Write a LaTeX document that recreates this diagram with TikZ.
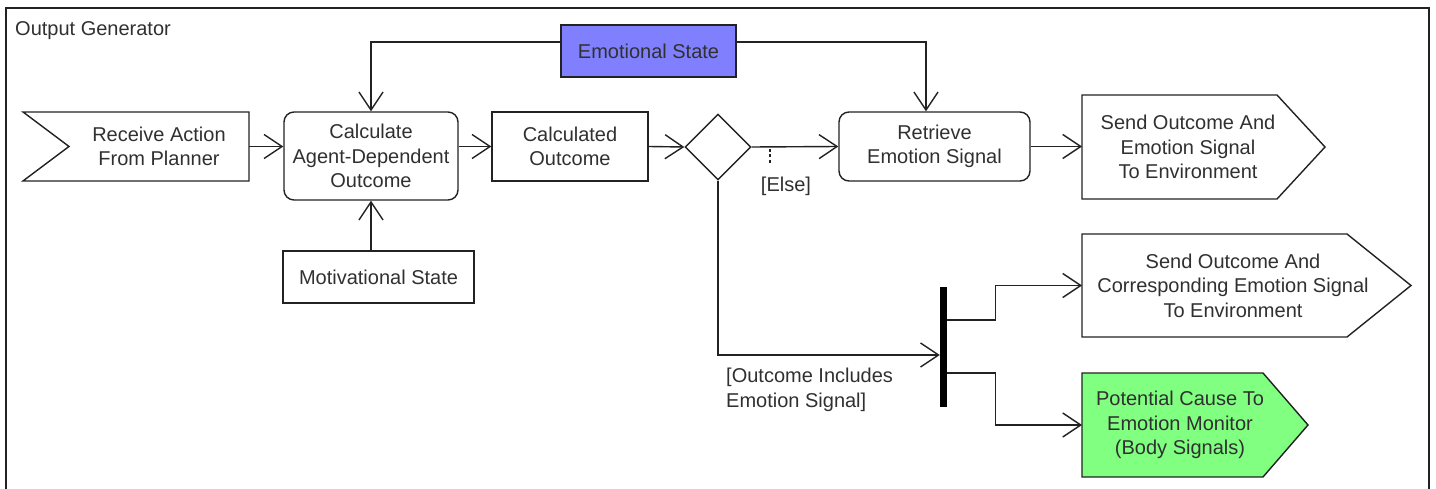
\documentclass[tikz,border=0pt]{standalone}
\usepackage{fontspec}
\setmainfont{Liberation Sans}
\usetikzlibrary{arrows.meta,shapes.geometric}
\definecolor{ink}{HTML}{222222}
\definecolor{txtink}{HTML}{303030}
\definecolor{emofill}{HTML}{8080FF}
\definecolor{bodyfill}{HTML}{80FF80}

\begin{document}
\begin{tikzpicture}[x=1pt,y=-1pt,
  font=\fontsize{20}{24.5}\selectfont,
  box/.style={draw=ink, line width=1.4pt, text=txtink, align=center, inner sep=0pt},
  rbox/.style={box, rounded corners=10pt},
  body/.style={inner sep=0pt, outer sep=0pt},
  outline/.style={draw=ink, line width=1.4pt, line join=miter},
  txt/.style={text=txtink, align=center, inner sep=0pt},
  flow/.style={draw=ink, line width=1.4pt,
    -{Straight Barb[length=18pt,width=24pt,line width=1.4pt]}},
  guard/.style={text=txtink, align=left, inner sep=0pt}
]
\useasboundingbox (0,0) rectangle (1436,489);
\clip (0,0) rectangle (1436,489);

% container frame
\draw[draw=ink, line width=2pt] (6,8) rectangle (1429,520);
\node[guard, anchor=west] (title) at (15,30.5) {Output Generator};

% emotional and motivational state objects
\node[box, fill=emofill, minimum width=175pt, minimum height=52pt] (emo) at (648.5,51) {Emotional State};
\node[box, minimum width=191pt, minimum height=52pt] (motiv) at (378.5,277) {Motivational State};

% receive signal (notched on the left)
\node[body, minimum width=226pt, minimum height=69pt] (recv) at (136,146.5) {};
\draw[outline] (recv.north west) -- (recv.north east) -- (recv.south east)
  -- (recv.south west) -- ([xshift=46pt]recv.west) -- cycle;
\node[txt] (recvtext) at (159,146.5) {Receive Action\\From Planner};

% actions
\node[rbox, minimum width=174pt, minimum height=88pt] (calc) at (371,156) {Calculate\\Agent-Dependent\\Outcome};
\node[box, minimum width=156pt, minimum height=69pt] (calcd) at (570,146.5) {Calculated\\Outcome};
\node[draw=ink, line width=1.4pt, diamond, aspect=1, minimum width=66pt, minimum height=66pt, inner sep=0pt] (dec) at (718,147) {};
\node[rbox, minimum width=191pt, minimum height=69pt] (retr) at (934.5,146.5) {Retrieve\\Emotion Signal};

% send signals (pointed on the right)
\node[body, minimum width=195pt, minimum height=104pt] (send1) at (1179.5,147) {};
\draw[outline] (send1.north west) -- (send1.north east) -- ([xshift=48pt]send1.east)
  -- (send1.south east) -- (send1.south west) -- cycle;
\node[txt] (send1text) at (1188,147) {Send Outcome And\\Emotion Signal\\To Environment};

\node[body, minimum width=265pt, minimum height=103pt] (send2) at (1214.5,285.5) {};
\draw[outline] (send2.north west) -- (send2.north east) -- ([xshift=64pt]send2.east)
  -- (send2.south east) -- (send2.south west) -- cycle;
\node[txt] (send2text) at (1233,285.5) {Send Outcome And\\Corresponding Emotion Signal\\To Environment};

\node[body, minimum width=181pt, minimum height=104pt] (pot) at (1172.5,425) {};
\draw[outline, fill=bodyfill] (pot.north west) -- (pot.north east) -- ([xshift=45pt]pot.east)
  -- (pot.south east) -- (pot.south west) -- cycle;
\node[txt] (pottext) at (1180,425) {Potential Cause To\\Emotion Monitor\\(Body Signals)};

% fork bar
\node[fill=black, draw=none, minimum width=7pt, minimum height=120pt, inner sep=0pt] (fork) at (943.5,347) {};

% control flow
\draw[flow] (recv.east) -- (recv.east -| calc.west);
\draw[flow] (calc.east |- calcd.west) -- (calcd.west);
\draw[flow] (calcd.east) -- (dec.west);
\draw[flow] (dec.east) -- (retr.west);
\draw[flow] (retr.east) -- (retr.east -| send1.west);
\draw[flow] (motiv.north -| calc.south) -- (calc.south);
\draw[flow] ([yshift=9pt]emo.west) -| (calc.north);
\draw[flow] ([yshift=9pt]emo.east) -| ([xshift=-8.5pt]retr.north);
\draw[flow] (dec.south) |- ([yshift=-8pt]fork.west);
\draw[flow] ([yshift=27pt]fork.east) -- ++(48,0) |- (send2.west);
\draw[flow] ([yshift=-26pt]fork.east) -- ++(48,0) |- (pot.west);

% guards
\coordinate (tick) at (770,149);
\draw[draw=ink, line width=1.2pt, dash pattern=on 3pt off 2.5pt] (tick) -- ++(0,16);
\node[txt] (elselabel) at (786,186) {[Else]};
\node[guard, anchor=west] (inclabel) at (726,390) {[Outcome Includes\\Emotion Signal]};
\end{tikzpicture}
\end{document}
